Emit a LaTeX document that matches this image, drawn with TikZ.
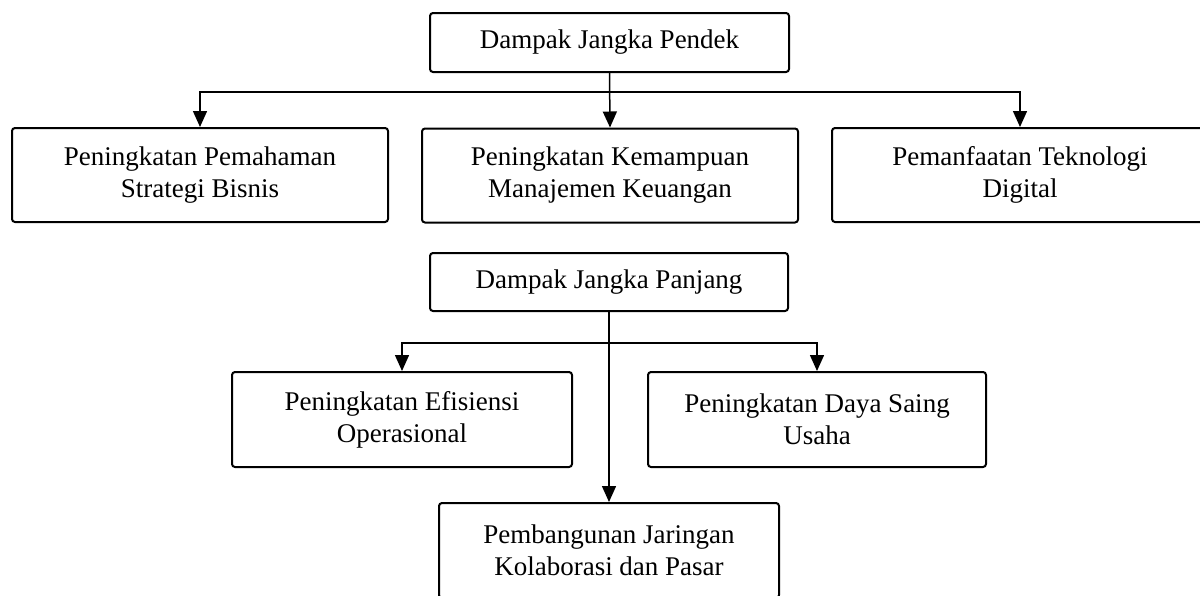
\documentclass[tikz,border=0pt]{standalone}
\usepackage{fontspec}
\setmainfont{Liberation Serif}
\usepackage{tikz}
\usetikzlibrary{arrows.meta,positioning}

\begin{document}
\begin{tikzpicture}[x=0.5pt,y=-0.5pt,>={Triangle[length=8pt,width=7pt]}]
        \tikzstyle{box}=[draw,line width=1pt,rounded corners=1.5pt,inner sep=0pt,align=center,font=\fontsize{13.5}{16}\selectfont]
        \tikzstyle{wide}=[box,minimum width=188pt,minimum height=47pt]
        \tikzstyle{narrow}=[box,minimum width=170pt,minimum height=47.5pt]
        \tikzstyle{head}=[box,minimum width=179.5pt,minimum height=29.5pt]
        \tikzstyle{link}=[line width=0.75pt]
        \useasboundingbox (0,0) rectangle (1200,595);

        % Short term
        \node[head] (pendek) at (609.5,42.5) {Dampak Jangka Pendek};
        \node[wide] (pemahaman) at (200,175) {Peningkatan Pemahaman\\Strategi Bisnis};
        \node[wide] (keuangan) at (610,175.5) {Peningkatan Kemampuan\\Manajemen Keuangan};
        \node[wide] (teknologi) at (1020,175) {Pemanfaatan Teknologi\\Digital};

        % Junction
        \coordinate (j1) at (610,92);

        % Draw the connectors
        \draw[link,->] (pendek.south) -- (keuangan.north);
        \draw[link,->] (j1) -| (pemahaman.north);
        \draw[link,->] (j1) -| (teknologi.north);

        % Long term
        \node[head,minimum width=179pt,minimum height=29pt] (panjang) at (609,282) {Dampak Jangka Panjang};
        \node[narrow] (efisiensi) at (402,419.5) {Peningkatan Efisiensi\\Operasional};
        \node[narrow,minimum width=169pt] (dayasaing) at (817,419.5) {Peningkatan Daya Saing\\Usaha};
        \node[narrow] (jaringan) at (609,550.5) {Pembangunan Jaringan\\Kolaborasi dan Pasar};

        % Junction
        \coordinate (j2) at (609,343);

        % Draw the connectors
        \draw[link,->] (panjang.south) -- (jaringan.north);
        \draw[link,->] (j2) -| (efisiensi.north);
        \draw[link,->] (j2) -| (dayasaing.north);
    \end{tikzpicture}
\end{document}
